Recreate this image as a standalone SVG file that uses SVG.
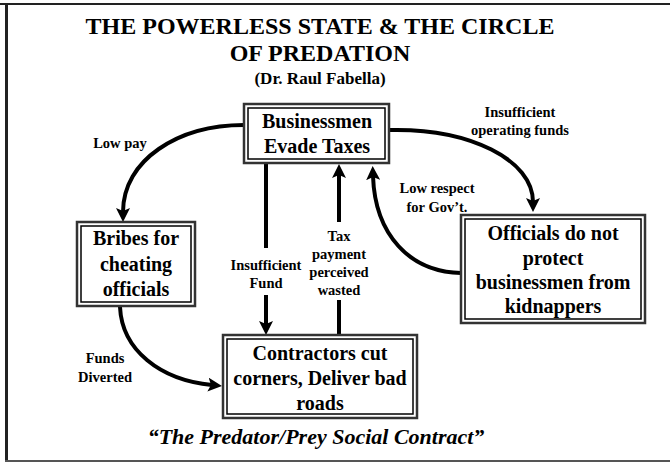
<svg xmlns="http://www.w3.org/2000/svg" width="670" height="462" viewBox="0 0 670 462">
<style>
.t{font-family:"Liberation Serif","Times New Roman",serif;font-weight:bold;fill:#000;text-anchor:middle}
.n{font-size:20px}
.l{font-size:14.5px}
.o{fill:#fff;stroke:#333;stroke-width:2.5}
.i{fill:none;stroke:#000;stroke-width:1.5}
.c{fill:none;stroke:#000;stroke-width:4}
</style>
<defs>
<marker id="ah" viewBox="0 0 14 14" refX="4" refY="7" markerWidth="14" markerHeight="14" markerUnits="userSpaceOnUse" orient="auto">
<path d="M0,0 L14,7 L0,14 L3,7 z" fill="#000"/>
</marker>
</defs>
<rect width="670" height="462" fill="#fff"/>
<g id="frame" fill="none" stroke="#222">
<line x1="0" y1="4" x2="670" y2="4" stroke-width="2"/>
<line x1="6.5" y1="3" x2="6.5" y2="462" stroke-width="3"/>
<line x1="5" y1="461" x2="670" y2="461" stroke-width="2" stroke="#555"/>
</g>
<g id="title">
<text class="t" x="320" y="34" font-size="24">THE POWERLESS STATE &amp; THE CIRCLE</text>
<text class="t" x="320" y="61" font-size="24">OF PREDATION</text>
<text class="t" x="320" y="84" font-size="17">(Dr. Raul Fabella)</text>
</g>
<g id="connectors">
<path class="c" d="M244,125 C178,125 123,160 123,212" marker-end="url(#ah)"/>
<path class="c" d="M389,130 C470,128 533,160 533,202" marker-end="url(#ah)"/>
<path class="c" d="M461,273 C410,272 375,235 373,176" marker-end="url(#ah)"/>
<path class="c" d="M120,307 C122,350 160,380 212,385" marker-end="url(#ah)"/>
<line class="c" x1="266" y1="164" x2="266" y2="248"/>
<line class="c" x1="266" y1="295" x2="266" y2="325" marker-end="url(#ah)"/>
<line class="c" x1="339" y1="335" x2="339" y2="300"/>
<line class="c" x1="339" y1="222" x2="339" y2="174" marker-end="url(#ah)"/>
<text class="t l" x="120" y="148">Low pay</text>
<text class="t l" x="520" y="117">Insufficient</text>
<text class="t l" x="520" y="135">operating funds</text>
<text class="t l" x="437" y="193">Low respect</text>
<text class="t l" x="437" y="212">for Gov’t.</text>
<text class="t l" x="266" y="270">Insufficient</text>
<text class="t l" x="266" y="288">Fund</text>
<text class="t l" x="339" y="241">Tax</text>
<text class="t l" x="339" y="259">payment</text>
<text class="t l" x="339" y="277">perceived</text>
<text class="t l" x="339" y="295">wasted</text>
<text class="t l" x="105" y="363">Funds</text>
<text class="t l" x="105" y="382">Diverted</text>
</g>
<g id="businessmen">
<rect class="o" x="244" y="104" width="145" height="59"/>
<rect class="i" x="248" y="108" width="137" height="51"/>
<text class="t n" x="317" y="128">Businessmen</text>
<text class="t n" x="317" y="153">Evade Taxes</text>
</g>
<g id="bribes">
<rect class="o" x="77" y="222" width="118" height="84"/>
<rect class="i" x="81" y="226" width="110" height="76"/>
<text class="t n" x="136" y="245">Bribes for</text>
<text class="t n" x="136" y="271">cheating</text>
<text class="t n" x="136" y="296">officials</text>
</g>
<g id="officials">
<rect class="o" x="461" y="215" width="184" height="108"/>
<rect class="i" x="465" y="219" width="176" height="100"/>
<text class="t n" x="553" y="240">Officials do not</text>
<text class="t n" x="553" y="265">protect</text>
<text class="t n" x="553" y="289">businessmen from</text>
<text class="t n" x="553" y="313">kidnappers</text>
</g>
<g id="contractors">
<rect class="o" x="223" y="335" width="194" height="83"/>
<rect class="i" x="227" y="339" width="186" height="75"/>
<text class="t n" x="320" y="360">Contractors cut</text>
<text class="t n" x="320" y="385">corners, Deliver bad</text>
<text class="t n" x="320" y="410">roads</text>
</g>
<g id="footer">
<text class="t" x="316" y="444" font-size="22" font-style="italic">“The Predator/Prey Social Contract”</text>
</g>
</svg>
